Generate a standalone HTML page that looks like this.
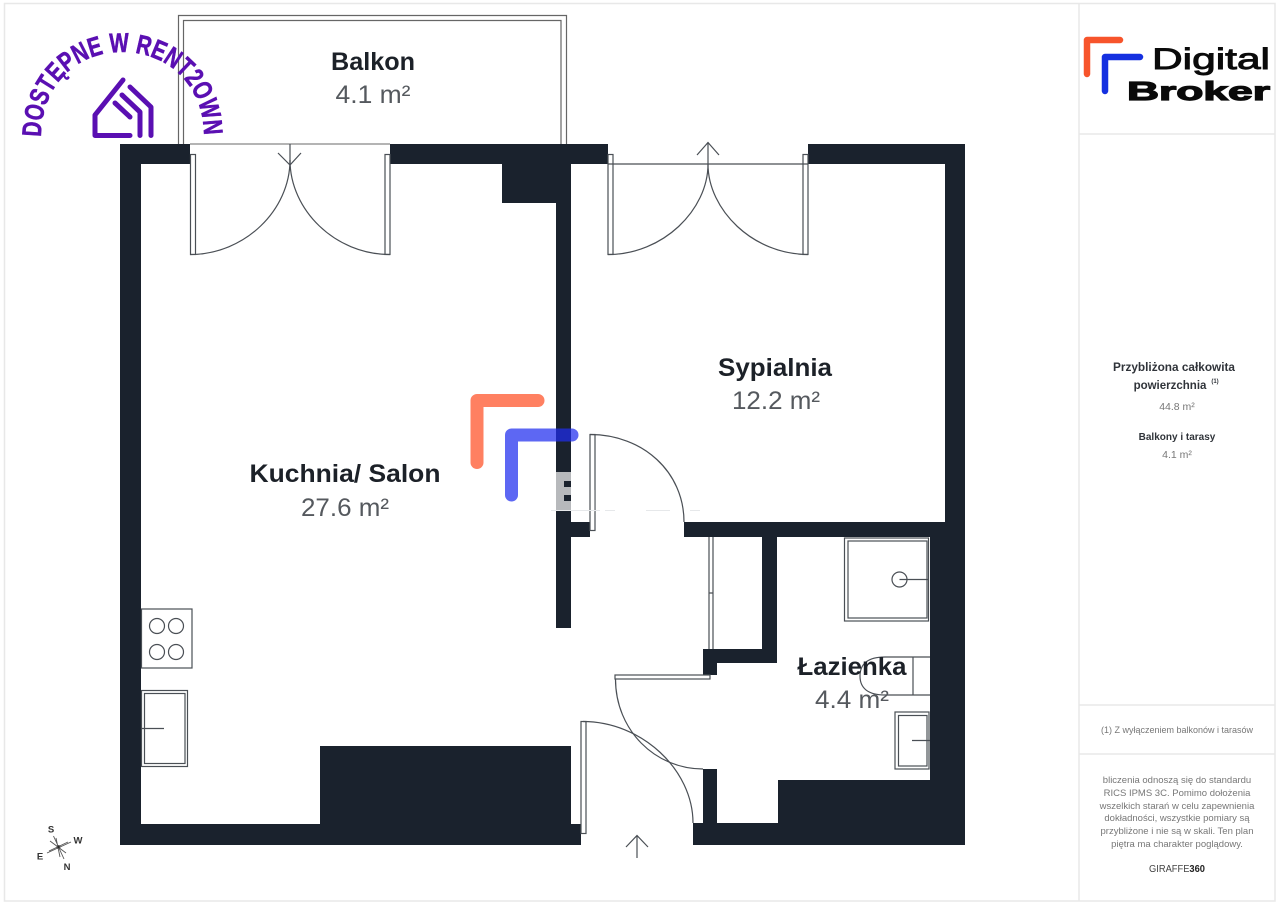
<!DOCTYPE html>
<html lang="pl">
<head>
<meta charset="utf-8">
<title>Plan mieszkania</title>
<style>
html,body{margin:0;padding:0;background:#fff;width:1280px;height:905px;overflow:hidden}
svg{display:block}
text{font-family:"Liberation Sans",sans-serif}
</style>
</head>
<body>
<svg width="1280" height="905" viewBox="0 0 1280 905" xmlns="http://www.w3.org/2000/svg">
<rect width="1280" height="905" fill="#fff"/>
<!-- frame -->
<g fill="none" stroke="#e8e8e8" stroke-width="1.5">
<rect x="4.5" y="3.5" width="1270.5" height="897.5"/>
<path d="M1079 4V901M1079 134H1275M1079 705H1275M1079 754H1275"/>
</g>
<!-- balcony -->
<g fill="none" stroke="#666" stroke-width="1.2">
<path d="M178.500 144V15.500H566.500V144"/>
<path d="M183.500 144V20.500H561V144"/>
</g>
<!-- walls -->
<g fill="#1a222d">
<rect x="120" y="144" width="70" height="20"/>
<rect x="390" y="144" width="218" height="20"/>
<rect x="808" y="144" width="157" height="20"/>
<rect x="120" y="144" width="21" height="701"/>
<rect x="945" y="144" width="20" height="701"/>
<rect x="930" y="537" width="35" height="290"/>
<rect x="120" y="824" width="461" height="21"/>
<rect x="693" y="823" width="272" height="22"/>
<rect x="320" y="746" width="251" height="78"/>
<rect x="502" y="164" width="69" height="39"/>
<rect x="556" y="164" width="15" height="464"/>
<rect x="571" y="522" width="19" height="15"/>
<rect x="684" y="522" width="261" height="15"/>
<rect x="762" y="537" width="15" height="126"/>
<rect x="703" y="649" width="74" height="14"/>
<rect x="703" y="649" width="14" height="26"/>
<rect x="703" y="769" width="14" height="55"/>
<rect x="778" y="780" width="152" height="44"/>
</g>
<!-- doors, fixtures -->
<g fill="none" stroke="#4a4f55" stroke-width="1.2">
<path d="M190 144H390" stroke="#888"/>
<rect x="190.500" y="154.500" width="5" height="100"/>
<rect x="385" y="154.500" width="5" height="100"/>
<path d="M190 254.500C245 254.500 290 210 290 160"/>
<path d="M390 254.500C335 254.500 290 210 290 160"/>
<path d="M290 144V165M278 153L290 165L301 153"/>
<path d="M608 164H808"/>
<rect x="608" y="154.500" width="5" height="100"/>
<rect x="803" y="154.500" width="5" height="100"/>
<path d="M608 254.500C663 254.500 708 210 708 164"/>
<path d="M808 254.500C753 254.500 708 210 708 164"/>
<path d="M708 142V164M697 155L708 142.500L719 155"/>
<rect x="590" y="434.500" width="5" height="96"/>
<path d="M590 434.500C643 434.500 684 472 684 522"/>
<path d="M709 537V649M713 537V649M709 593H713"/>
<rect x="615" y="675" width="95" height="4"/>
<path d="M615.500 679C615.500 730 655 769 703 769"/>
<rect x="581" y="721.500" width="5" height="112"/>
<path d="M583 721.500C642 721.500 693 770 693 823"/>
<path d="M637 858V836M626 847L637 835.500L648 847"/>
<rect x="844.500" y="538" width="84" height="83"/>
<rect x="848" y="541" width="79" height="77"/>
<circle cx="899.500" cy="579.500" r="7.500"/>
<path d="M899.500 579.500H929"/>
<path d="M930 657H885C868 657 860 664 860 676C860 688 868 695 885 695H930M913 657V695"/>
<rect x="895" y="712" width="34" height="57"/>
<rect x="898.500" y="715.500" width="28.500" height="50.500"/>
<path d="M912 740.500H930"/>
<rect x="141.500" y="609" width="50.500" height="59"/>
<circle cx="157" cy="626" r="7.500"/><circle cx="176" cy="626" r="7.500"/>
<circle cx="157" cy="652" r="7.500"/><circle cx="176" cy="652" r="7.500"/>
<rect x="141.500" y="690.500" width="46" height="76"/>
<rect x="144.500" y="693.500" width="40.500" height="70"/>
<path d="M141 728.500H164"/>
</g>
<!-- compass -->
<g stroke="#555" stroke-width="0.9">
<path d="M53.500 836L64 859M47 853L71 842M50 841L66 853M49 851L68 842M56 838L60 857"/>
<circle cx="58.500" cy="847" r="1.500" fill="#222"/>
</g>
<g fill="#333" font-size="9.500" font-weight="700" text-anchor="middle">
<text x="51" y="832.500">S</text><text x="78" y="843.500">W</text><text x="40" y="859.500">E</text><text x="67" y="870">N</text>
</g>
<!-- watermark -->
<rect x="556" y="472" width="15" height="38" fill="#b7b9bc"/>
<rect x="564" y="481" width="7" height="6" fill="#1a222d"/>
<rect x="564" y="495" width="7" height="6" fill="#1a222d"/>
<path d="M593 490V512" stroke="#fff" stroke-width="3" stroke-opacity=".7" fill="none"/>
<path d="M551 510.500H600M605 510.500H615M646 510.500H670M690 510.500H700" stroke="#e6e8ea" stroke-width="1" fill="none"/>
<g fill="none" stroke-linecap="round" stroke-linejoin="round" stroke-width="13">
<path d="M477 462.500V400.500H538" stroke="#ff6a45" stroke-opacity=".85"/>
<path d="M511.500 495V435H572" stroke="#1f2cee" stroke-opacity=".72"/>
</g>
<!-- room labels -->
<g text-anchor="middle">
<g font-weight="700" fill="#1c2128" font-size="25">
<text x="373" y="70" textLength="84" lengthAdjust="spacingAndGlyphs">Balkon</text>
<text x="775" y="376" textLength="114" lengthAdjust="spacingAndGlyphs">Sypialnia</text>
<text x="345" y="482" textLength="191" lengthAdjust="spacingAndGlyphs">Kuchnia/ Salon</text>
<text x="852" y="675" textLength="109" lengthAdjust="spacingAndGlyphs">Łazienka</text>
</g>
<g fill="#55595e" font-size="25">
<text x="373" y="103" textLength="75" lengthAdjust="spacingAndGlyphs">4.1 m²</text>
<text x="776" y="409" textLength="88" lengthAdjust="spacingAndGlyphs">12.2 m²</text>
<text x="345" y="516" textLength="88" lengthAdjust="spacingAndGlyphs">27.6 m²</text>
<text x="852" y="708" textLength="74" lengthAdjust="spacingAndGlyphs">4.4 m²</text>
</g>
</g>
<!-- rent2own badge -->
<defs><path id="arc" d="M41 137C41 84 78 52 122 52C167 52 204 84 204 137"/></defs>
<text fill="#5a0fb2" stroke="#5a0fb2" stroke-width=".6" font-size="27" font-weight="700"><textPath href="#arc" textLength="262" lengthAdjust="spacingAndGlyphs">DOSTĘPNE W RENT2OWN</textPath></text>
<g fill="none" stroke="#5a0fb2" stroke-width="5" stroke-linecap="round" stroke-linejoin="round">
<path d="M123 80L95 115V135.500H130"/>
<path d="M130 87L151 107V135.500"/>
<path d="M122 95L140 112V135.500"/>
<path d="M115 103L130 117"/>
</g>
<!-- logo -->
<g fill="none" stroke-linecap="round" stroke-linejoin="round" stroke-width="6.500">
<path d="M1087 74V40H1120" stroke="#f7542b"/>
<path d="M1105 91V57H1140" stroke="#1530e0"/>
</g>
<text x="1152" y="69" font-size="30" fill="#0a0a0a" stroke="#0a0a0a" stroke-width=".9" textLength="118" lengthAdjust="spacingAndGlyphs">Digital</text>
<text x="1127" y="100" font-size="26" font-weight="700" fill="#0a0a0a" stroke="#0a0a0a" stroke-width="1.200" textLength="143" lengthAdjust="spacingAndGlyphs">Broker</text>
<!-- side panel -->
<g text-anchor="middle">
<text x="1174" y="371" font-size="11.500" font-weight="700" fill="#30343a" textLength="122" lengthAdjust="spacingAndGlyphs">Przybliżona całkowita</text>
<text x="1170" y="389" font-size="11.500" font-weight="700" fill="#30343a">powierzchnia</text>
<text x="1215" y="383" font-size="6" font-weight="700" fill="#30343a">(1)</text>
<text x="1177" y="410" font-size="10.500" fill="#777">44.8 m²</text>
<text x="1177" y="440" font-size="10" font-weight="700" fill="#30343a">Balkony i tarasy</text>
<text x="1177" y="458" font-size="10.500" fill="#777">4.1 m²</text>
<text x="1177" y="733" font-size="9.500" fill="#777" textLength="152" lengthAdjust="spacingAndGlyphs">(1) Z wyłączeniem balkonów i tarasów</text>
<g font-size="9.500" fill="#777">
<text x="1177" y="783">bliczenia odnoszą się do standardu</text>
<text x="1177" y="796">RICS IPMS 3C. Pomimo dołożenia</text>
<text x="1177" y="809">wszelkich starań w celu zapewnienia</text>
<text x="1177" y="821">dokładności, wszystkie pomiary są</text>
<text x="1177" y="834">przybliżone i nie są w skali. Ten plan</text>
<text x="1177" y="847">piętra ma charakter poglądowy.</text>
</g>
<text x="1177" y="872" font-size="10" fill="#444" textLength="56" lengthAdjust="spacingAndGlyphs">GIRAFFE<tspan font-weight="700" fill="#222">360</tspan></text>
</g>
</svg>
</body>
</html>
